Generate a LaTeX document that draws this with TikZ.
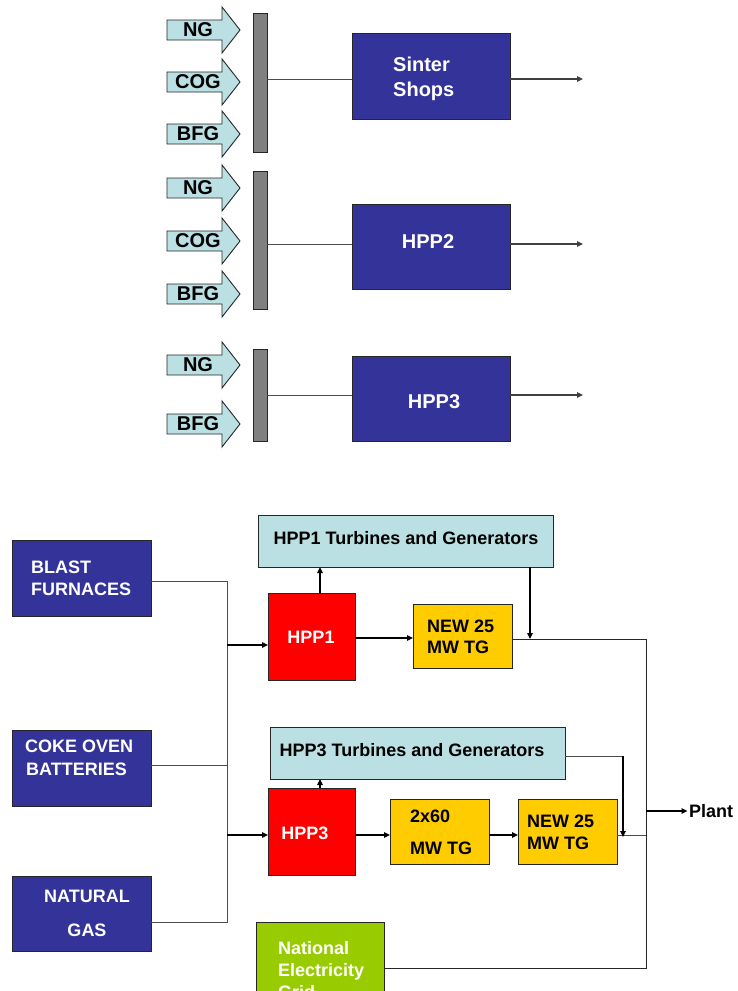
\documentclass[tikz,border=0pt]{standalone}
\usepackage{fontspec}
\setmainfont{Liberation Sans}
\usetikzlibrary{arrows.meta,calc}
\definecolor{navy}{HTML}{333399}
\definecolor{pale}{HTML}{BBE0E3}
\definecolor{gold}{HTML}{FFCC00}
\definecolor{lime}{HTML}{99CC00}
\definecolor{bargray}{HTML}{808080}
\newcommand{\gasarrow}[3]{%
  \draw[gasarr] (167,#2-10) -- (222,#2-10) -- (222,#2-23) -- (240,#2) -- (222,#2+23) -- (222,#2+10) -- (167,#2+10) -- cycle;
  \node[gastxt] (#1) at (198,#2) {#3};}
\begin{document}
\begin{tikzpicture}[x=1pt,y=-1pt,
  >={Triangle[length=6pt,width=5.5pt]},
  box/.style={draw=black!85,line width=0.8pt,inner sep=0,outer sep=0},
  gasarr/.style={draw=black!85,line width=0.9pt,fill=pale},
  gastxt/.style={inner sep=0,font=\bfseries\fontsize{20}{24}\selectfont},
  bigtxt/.style={inner sep=0,font=\bfseries\fontsize{20}{24}\selectfont,anchor=base west,text=white},
  t/.style={inner sep=0,font=\bfseries\fontsize{18}{22}\selectfont,anchor=base west},
  tc/.style={inner sep=0,font=\bfseries\fontsize{18}{22}\selectfont,anchor=base},
  bar/.style={draw=black!85,line width=0.8pt,fill=bargray,minimum width=14pt,inner sep=0},
  gline/.style={draw=black!65,line width=0.9pt},
  outarr/.style={draw=black!75,line width=1.2pt,->},
  line/.style={draw=black!70,line width=0.9pt},
  arr/.style={draw=black,line width=1.5pt,->},
]
\useasboundingbox (0,0) rectangle (737,991);
\fill[white] (0,0) rectangle (737,991);
\clip (0,0) rectangle (737,991);

% ---------- top section ----------
\gasarrow{ng1}{30}{NG}
\gasarrow{cog1}{82}{COG}
\gasarrow{bfg1}{134}{BFG}
\gasarrow{ng2}{188}{NG}
\gasarrow{cog2}{241}{COG}
\gasarrow{bfg2}{294}{BFG}
\gasarrow{ng3}{365}{NG}
\gasarrow{bfg3}{424}{BFG}

\node[bar,minimum height=139pt] (bar1) at (260,82.5) {};
\node[bar,minimum height=138pt] (bar2) at (260,240) {};
\node[bar,minimum height=92pt] (bar3) at (260,395) {};

\node[box,fill=navy,minimum width=158pt,minimum height=86pt] (sinter) at (431,76) {};
\node[box,fill=navy,minimum width=158pt,minimum height=85pt] (hpp2) at (431,246.5) {};
\node[box,fill=navy,minimum width=158pt,minimum height=85pt] (hpp3t) at (431,398.5) {};

\node[bigtxt] (sintert1) at (393,71.2) {Sinter};
\node[bigtxt] (sintert2) at (393,96.2) {Shops};
\node[bigtxt,anchor=base] (hpp2t) at (428,248.2) {HPP2};
\node[bigtxt,anchor=base] (hpp3tt) at (434,408.2) {HPP3};

\coordinate (y1) at (0,79);
\coordinate (y2) at (0,244);
\coordinate (y3) at (0,395);
\coordinate (xo) at (583,0);
\draw[line] (y1 -| bar1.east) -- (y1 -| sinter.west);
\draw[outarr] (y1 -| sinter.east) -- (y1 -| xo);
\draw[line] (y2 -| bar2.east) -- (y2 -| hpp2.west);
\draw[outarr] (y2 -| hpp2.east) -- (y2 -| xo);
\draw[line] (y3 -| bar3.east) -- (y3 -| hpp3t.west);
\draw[outarr] (y3 -| hpp3t.east) -- (y3 -| xo);

% ---------- bottom section ----------
\node[box,fill=pale,minimum width=295pt,minimum height=52pt] (tg1) at (405.5,541) {};
\node[t,anchor=base] (tg1t) at (406,544.4) {HPP1 Turbines and Generators};
\node[box,fill=navy,minimum width=139pt,minimum height=76pt] (bf) at (81.5,578) {};
\node[t,text=white] (bft1) at (31,573.4) {BLAST};
\node[t,text=white] (bft2) at (31,595.4) {FURNACES};
\node[box,fill=red,minimum width=87pt,minimum height=87pt] (hpp1) at (311.5,636.5) {};
\node[tc,text=white] (hpp1t) at (311,643.4) {HPP1};
\node[box,fill=gold,minimum width=99pt,minimum height=64pt] (new1) at (462.5,636) {};
\node[t] (new1t1) at (427,632.4) {NEW 25};
\node[t] (new1t2) at (427,653.4) {MW TG};

\node[box,fill=pale,minimum width=295pt,minimum height=52pt] (tg3) at (417.5,753) {};
\node[t,anchor=base] (tg3t) at (412,756.4) {HPP3 Turbines and Generators};
\node[box,fill=navy,minimum width=139pt,minimum height=76pt] (cob) at (81.5,768) {};
\node[t,text=white] (cobt1) at (25,752.4) {COKE OVEN};
\node[t,text=white] (cobt2) at (26,775.4) {BATTERIES};
\node[box,fill=red,minimum width=87pt,minimum height=87pt] (hpp3) at (311.5,831.5) {};
\node[tc,text=white] (hpp3t2) at (305,839.4) {HPP3};
\node[box,fill=gold,minimum width=99pt,minimum height=65pt] (tg60) at (439.5,831.5) {};
\node[t] (tg60t1) at (410,822.4) {2x60};
\node[t] (tg60t2) at (410,854.4) {MW TG};
\node[box,fill=gold,minimum width=99pt,minimum height=65pt] (new2) at (567.5,831.5) {};
\node[t] (new2t1) at (527,827.4) {NEW 25};
\node[t] (new2t2) at (527,849.4) {MW TG};

\node[box,fill=navy,minimum width=139pt,minimum height=75pt] (ngas) at (81.5,913.5) {};
\node[tc,text=white] (ngast1) at (87,902.4) {NATURAL};
\node[tc,text=white] (ngast2) at (87,936.4) {GAS};
\node[box,fill=lime,minimum width=128pt,minimum height=100pt] (grid) at (320,972) {};
\node[t,text=white] (gridt1) at (278,954.4) {National};
\node[t,text=white] (gridt2) at (278,976.4) {Electricity};
\node[t,text=white] (gridt3) at (278,998.4) {Grid};

\node[t] (plant) at (689,817.4) {Plant};

% connectors
\coordinate (busT) at (227,581);
\coordinate (busB) at (227,922);
\draw[line] (busT -| bf.east) -- (busT) -- (busB) -- (busB -| ngas.east);
\coordinate (busC) at (227,765);
\draw[line] (busC -| cob.east) -- (busC);
\coordinate (j1) at (227,645);
\coordinate (j3) at (227,835);
\draw[arr] (j1) -- (j1 -| hpp1.west);
\draw[arr] (j3) -- (j3 -| hpp3.west);

\coordinate (u1) at (320,593);
\draw[arr,line width=1.3pt] (u1) -- (u1 |- tg1.south);
\coordinate (u3) at (320,788);
\draw[arr,line width=1.3pt] (u3) -- (u3 |- tg3.south);

\coordinate (h1) at (0,638);
\draw[arr] (h1 -| hpp1.east) -- (h1 -| new1.west);
\coordinate (d1) at (530,639);
\draw[arr] (d1 |- tg1.south) -- (d1);

\coordinate (trT) at (646,639);
\coordinate (trB) at (646,968);
\draw[line,draw=black!85] (trT -| new1.east) -- (trT) -- (trB) -- (trB -| grid.east);

\coordinate (h3) at (0,835);
\draw[arr] (h3 -| hpp3.east) -- (h3 -| tg60.west);
\draw[arr] (h3 -| tg60.east) -- (h3 -| new2.west);
\draw[line] (h3 -| new2.east) -- (h3 -| trT);

\coordinate (r3) at (623,756);
\coordinate (r3b) at (623,837);
\draw[line] (r3 -| tg3.east) -- (r3);
\draw[arr] (r3) -- (r3b);

\coordinate (pl) at (646,811);
\draw[arr,shorten >=1.5pt] (pl) -- (pl -| plant.west);
\end{tikzpicture}
\end{document}
